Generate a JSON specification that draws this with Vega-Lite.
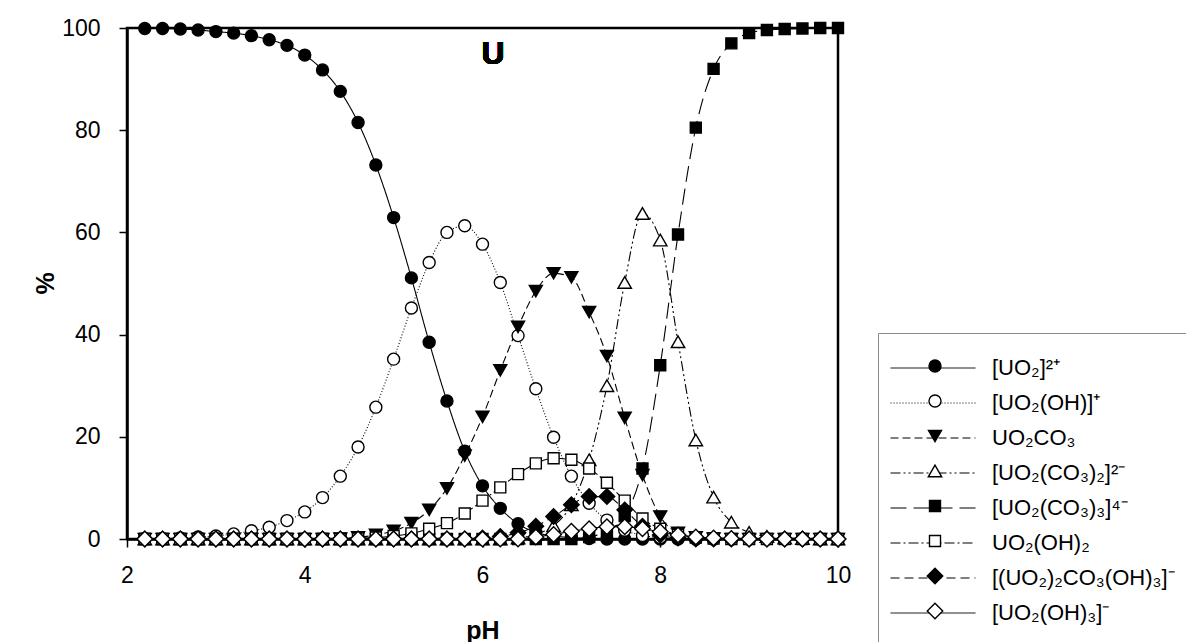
{
 "$schema": "https://vega.github.io/schema/vega-lite/v6.json",
 "autosize": {"type": "none"},
 "padding": {"left": 127, "top": 28, "right": 348, "bottom": 103},
 "width": 711,
 "height": 511,
 "background": "white",
 "config": {
  "font": "Liberation Sans",
  "view": {"stroke": "black", "strokeWidth": 2.5}
 },
 "data": {"values": [
  {"s":"[UO₂]²⁺","pH":2.2,"v":99.9},{"s":"[UO₂]²⁺","pH":2.4,"v":99.9},{"s":"[UO₂]²⁺","pH":2.6,"v":99.8},{"s":"[UO₂]²⁺","pH":2.8,"v":99.6},{"s":"[UO₂]²⁺","pH":3.0,"v":99.3},{"s":"[UO₂]²⁺","pH":3.2,"v":99.0},{"s":"[UO₂]²⁺","pH":3.4,"v":98.5},{"s":"[UO₂]²⁺","pH":3.6,"v":97.7},{"s":"[UO₂]²⁺","pH":3.8,"v":96.6},{"s":"[UO₂]²⁺","pH":4.0,"v":94.7},
  {"s":"[UO₂]²⁺","pH":4.2,"v":91.8},{"s":"[UO₂]²⁺","pH":4.4,"v":87.6},{"s":"[UO₂]²⁺","pH":4.6,"v":81.5},{"s":"[UO₂]²⁺","pH":4.8,"v":73.2},{"s":"[UO₂]²⁺","pH":5.0,"v":62.9},{"s":"[UO₂]²⁺","pH":5.2,"v":51.1},{"s":"[UO₂]²⁺","pH":5.4,"v":38.5},{"s":"[UO₂]²⁺","pH":5.6,"v":27.0},{"s":"[UO₂]²⁺","pH":5.8,"v":17.2},{"s":"[UO₂]²⁺","pH":6.0,"v":10.4},
  {"s":"[UO₂]²⁺","pH":6.2,"v":6.0},{"s":"[UO₂]²⁺","pH":6.4,"v":3.0},{"s":"[UO₂]²⁺","pH":6.6,"v":1.3},{"s":"[UO₂]²⁺","pH":6.8,"v":0.6},{"s":"[UO₂]²⁺","pH":7.0,"v":0.3},{"s":"[UO₂]²⁺","pH":7.2,"v":0.1},{"s":"[UO₂]²⁺","pH":7.4,"v":0},{"s":"[UO₂]²⁺","pH":7.6,"v":0},{"s":"[UO₂]²⁺","pH":7.8,"v":0},{"s":"[UO₂]²⁺","pH":8.0,"v":0},
  {"s":"[UO₂]²⁺","pH":8.2,"v":0},{"s":"[UO₂]²⁺","pH":8.4,"v":0},{"s":"[UO₂]²⁺","pH":8.6,"v":0},{"s":"[UO₂]²⁺","pH":8.8,"v":0},{"s":"[UO₂]²⁺","pH":9.0,"v":0},{"s":"[UO₂]²⁺","pH":9.2,"v":0},{"s":"[UO₂]²⁺","pH":9.4,"v":0},{"s":"[UO₂]²⁺","pH":9.6,"v":0},{"s":"[UO₂]²⁺","pH":9.8,"v":0},{"s":"[UO₂]²⁺","pH":10.0,"v":0},

  {"s":"[UO₂(OH)]⁺","pH":2.2,"v":0.1},{"s":"[UO₂(OH)]⁺","pH":2.4,"v":0.1},{"s":"[UO₂(OH)]⁺","pH":2.6,"v":0.2},{"s":"[UO₂(OH)]⁺","pH":2.8,"v":0.4},{"s":"[UO₂(OH)]⁺","pH":3.0,"v":0.6},{"s":"[UO₂(OH)]⁺","pH":3.2,"v":1.0},{"s":"[UO₂(OH)]⁺","pH":3.4,"v":1.6},{"s":"[UO₂(OH)]⁺","pH":3.6,"v":2.3},{"s":"[UO₂(OH)]⁺","pH":3.8,"v":3.6},{"s":"[UO₂(OH)]⁺","pH":4.0,"v":5.3},
  {"s":"[UO₂(OH)]⁺","pH":4.2,"v":8.1},{"s":"[UO₂(OH)]⁺","pH":4.4,"v":12.3},{"s":"[UO₂(OH)]⁺","pH":4.6,"v":18.0},{"s":"[UO₂(OH)]⁺","pH":4.8,"v":25.8},{"s":"[UO₂(OH)]⁺","pH":5.0,"v":35.2},{"s":"[UO₂(OH)]⁺","pH":5.2,"v":45.2},{"s":"[UO₂(OH)]⁺","pH":5.4,"v":54.1},{"s":"[UO₂(OH)]⁺","pH":5.6,"v":60.0},{"s":"[UO₂(OH)]⁺","pH":5.8,"v":61.3},{"s":"[UO₂(OH)]⁺","pH":6.0,"v":57.7},
  {"s":"[UO₂(OH)]⁺","pH":6.2,"v":50.2},{"s":"[UO₂(OH)]⁺","pH":6.4,"v":39.8},{"s":"[UO₂(OH)]⁺","pH":6.6,"v":29.4},{"s":"[UO₂(OH)]⁺","pH":6.8,"v":19.9},{"s":"[UO₂(OH)]⁺","pH":7.0,"v":12.3},{"s":"[UO₂(OH)]⁺","pH":7.2,"v":7.0},{"s":"[UO₂(OH)]⁺","pH":7.4,"v":3.7},{"s":"[UO₂(OH)]⁺","pH":7.6,"v":1.7},{"s":"[UO₂(OH)]⁺","pH":7.8,"v":0.7},{"s":"[UO₂(OH)]⁺","pH":8.0,"v":0.3},
  {"s":"[UO₂(OH)]⁺","pH":8.2,"v":0.1},{"s":"[UO₂(OH)]⁺","pH":8.4,"v":0},{"s":"[UO₂(OH)]⁺","pH":8.6,"v":0},{"s":"[UO₂(OH)]⁺","pH":8.8,"v":0},{"s":"[UO₂(OH)]⁺","pH":9.0,"v":0},{"s":"[UO₂(OH)]⁺","pH":9.2,"v":0},{"s":"[UO₂(OH)]⁺","pH":9.4,"v":0},{"s":"[UO₂(OH)]⁺","pH":9.6,"v":0},{"s":"[UO₂(OH)]⁺","pH":9.8,"v":0},{"s":"[UO₂(OH)]⁺","pH":10.0,"v":0},

  {"s":"UO₂CO₃","pH":2.2,"v":0},{"s":"UO₂CO₃","pH":2.4,"v":0},{"s":"UO₂CO₃","pH":2.6,"v":0},{"s":"UO₂CO₃","pH":2.8,"v":0},{"s":"UO₂CO₃","pH":3.0,"v":0},{"s":"UO₂CO₃","pH":3.2,"v":0},{"s":"UO₂CO₃","pH":3.4,"v":0},{"s":"UO₂CO₃","pH":3.6,"v":0},{"s":"UO₂CO₃","pH":3.8,"v":0},{"s":"UO₂CO₃","pH":4.0,"v":0},
  {"s":"UO₂CO₃","pH":4.2,"v":0},{"s":"UO₂CO₃","pH":4.4,"v":0.1},{"s":"UO₂CO₃","pH":4.6,"v":0.3},{"s":"UO₂CO₃","pH":4.8,"v":0.8},{"s":"UO₂CO₃","pH":5.0,"v":1.6},{"s":"UO₂CO₃","pH":5.2,"v":3.1},{"s":"UO₂CO₃","pH":5.4,"v":5.7},{"s":"UO₂CO₃","pH":5.6,"v":9.9},{"s":"UO₂CO₃","pH":5.8,"v":16.3},{"s":"UO₂CO₃","pH":6.0,"v":23.9},
  {"s":"UO₂CO₃","pH":6.2,"v":33.0},{"s":"UO₂CO₃","pH":6.4,"v":41.5},{"s":"UO₂CO₃","pH":6.6,"v":48.5},{"s":"UO₂CO₃","pH":6.8,"v":52.0},{"s":"UO₂CO₃","pH":7.0,"v":51.2},{"s":"UO₂CO₃","pH":7.2,"v":44.4},{"s":"UO₂CO₃","pH":7.4,"v":35.8},{"s":"UO₂CO₃","pH":7.6,"v":23.7},{"s":"UO₂CO₃","pH":7.8,"v":12.5},{"s":"UO₂CO₃","pH":8.0,"v":4.4},
  {"s":"UO₂CO₃","pH":8.2,"v":1.2},{"s":"UO₂CO₃","pH":8.4,"v":0.3},{"s":"UO₂CO₃","pH":8.6,"v":0.1},{"s":"UO₂CO₃","pH":8.8,"v":0},{"s":"UO₂CO₃","pH":9.0,"v":0},{"s":"UO₂CO₃","pH":9.2,"v":0},{"s":"UO₂CO₃","pH":9.4,"v":0},{"s":"UO₂CO₃","pH":9.6,"v":0},{"s":"UO₂CO₃","pH":9.8,"v":0},{"s":"UO₂CO₃","pH":10.0,"v":0},

  {"s":"[UO₂(CO₃)₂]²⁻","pH":2.2,"v":0},{"s":"[UO₂(CO₃)₂]²⁻","pH":2.4,"v":0},{"s":"[UO₂(CO₃)₂]²⁻","pH":2.6,"v":0},{"s":"[UO₂(CO₃)₂]²⁻","pH":2.8,"v":0},{"s":"[UO₂(CO₃)₂]²⁻","pH":3.0,"v":0},{"s":"[UO₂(CO₃)₂]²⁻","pH":3.2,"v":0},{"s":"[UO₂(CO₃)₂]²⁻","pH":3.4,"v":0},{"s":"[UO₂(CO₃)₂]²⁻","pH":3.6,"v":0},{"s":"[UO₂(CO₃)₂]²⁻","pH":3.8,"v":0},{"s":"[UO₂(CO₃)₂]²⁻","pH":4.0,"v":0},
  {"s":"[UO₂(CO₃)₂]²⁻","pH":4.2,"v":0},{"s":"[UO₂(CO₃)₂]²⁻","pH":4.4,"v":0},{"s":"[UO₂(CO₃)₂]²⁻","pH":4.6,"v":0},{"s":"[UO₂(CO₃)₂]²⁻","pH":4.8,"v":0},{"s":"[UO₂(CO₃)₂]²⁻","pH":5.0,"v":0},{"s":"[UO₂(CO₃)₂]²⁻","pH":5.2,"v":0},{"s":"[UO₂(CO₃)₂]²⁻","pH":5.4,"v":0},{"s":"[UO₂(CO₃)₂]²⁻","pH":5.6,"v":0},{"s":"[UO₂(CO₃)₂]²⁻","pH":5.8,"v":0},{"s":"[UO₂(CO₃)₂]²⁻","pH":6.0,"v":0},
  {"s":"[UO₂(CO₃)₂]²⁻","pH":6.2,"v":0},{"s":"[UO₂(CO₃)₂]²⁻","pH":6.4,"v":0.2},{"s":"[UO₂(CO₃)₂]²⁻","pH":6.6,"v":0.9},{"s":"[UO₂(CO₃)₂]²⁻","pH":6.8,"v":2.6},{"s":"[UO₂(CO₃)₂]²⁻","pH":7.0,"v":6.7},{"s":"[UO₂(CO₃)₂]²⁻","pH":7.2,"v":15.5},{"s":"[UO₂(CO₃)₂]²⁻","pH":7.4,"v":30.0},{"s":"[UO₂(CO₃)₂]²⁻","pH":7.6,"v":50.2},{"s":"[UO₂(CO₃)₂]²⁻","pH":7.8,"v":63.7},{"s":"[UO₂(CO₃)₂]²⁻","pH":8.0,"v":58.5},
  {"s":"[UO₂(CO₃)₂]²⁻","pH":8.2,"v":38.6},{"s":"[UO₂(CO₃)₂]²⁻","pH":8.4,"v":19.4},{"s":"[UO₂(CO₃)₂]²⁻","pH":8.6,"v":8.2},{"s":"[UO₂(CO₃)₂]²⁻","pH":8.8,"v":3.3},{"s":"[UO₂(CO₃)₂]²⁻","pH":9.0,"v":1.3},{"s":"[UO₂(CO₃)₂]²⁻","pH":9.2,"v":0.5},{"s":"[UO₂(CO₃)₂]²⁻","pH":9.4,"v":0.2},{"s":"[UO₂(CO₃)₂]²⁻","pH":9.6,"v":0.1},{"s":"[UO₂(CO₃)₂]²⁻","pH":9.8,"v":0},{"s":"[UO₂(CO₃)₂]²⁻","pH":10.0,"v":0},

  {"s":"[UO₂(CO₃)₃]⁴⁻","pH":2.2,"v":0},{"s":"[UO₂(CO₃)₃]⁴⁻","pH":2.4,"v":0},{"s":"[UO₂(CO₃)₃]⁴⁻","pH":2.6,"v":0},{"s":"[UO₂(CO₃)₃]⁴⁻","pH":2.8,"v":0},{"s":"[UO₂(CO₃)₃]⁴⁻","pH":3.0,"v":0},{"s":"[UO₂(CO₃)₃]⁴⁻","pH":3.2,"v":0},{"s":"[UO₂(CO₃)₃]⁴⁻","pH":3.4,"v":0},{"s":"[UO₂(CO₃)₃]⁴⁻","pH":3.6,"v":0},{"s":"[UO₂(CO₃)₃]⁴⁻","pH":3.8,"v":0},{"s":"[UO₂(CO₃)₃]⁴⁻","pH":4.0,"v":0},
  {"s":"[UO₂(CO₃)₃]⁴⁻","pH":4.2,"v":0},{"s":"[UO₂(CO₃)₃]⁴⁻","pH":4.4,"v":0},{"s":"[UO₂(CO₃)₃]⁴⁻","pH":4.6,"v":0},{"s":"[UO₂(CO₃)₃]⁴⁻","pH":4.8,"v":0},{"s":"[UO₂(CO₃)₃]⁴⁻","pH":5.0,"v":0},{"s":"[UO₂(CO₃)₃]⁴⁻","pH":5.2,"v":0},{"s":"[UO₂(CO₃)₃]⁴⁻","pH":5.4,"v":0},{"s":"[UO₂(CO₃)₃]⁴⁻","pH":5.6,"v":0},{"s":"[UO₂(CO₃)₃]⁴⁻","pH":5.8,"v":0},{"s":"[UO₂(CO₃)₃]⁴⁻","pH":6.0,"v":0},
  {"s":"[UO₂(CO₃)₃]⁴⁻","pH":6.2,"v":0},{"s":"[UO₂(CO₃)₃]⁴⁻","pH":6.4,"v":0},{"s":"[UO₂(CO₃)₃]⁴⁻","pH":6.6,"v":0},{"s":"[UO₂(CO₃)₃]⁴⁻","pH":6.8,"v":0},{"s":"[UO₂(CO₃)₃]⁴⁻","pH":7.0,"v":0},{"s":"[UO₂(CO₃)₃]⁴⁻","pH":7.2,"v":0.4},{"s":"[UO₂(CO₃)₃]⁴⁻","pH":7.4,"v":1.5},{"s":"[UO₂(CO₃)₃]⁴⁻","pH":7.6,"v":4.5},{"s":"[UO₂(CO₃)₃]⁴⁻","pH":7.8,"v":13.8},{"s":"[UO₂(CO₃)₃]⁴⁻","pH":8.0,"v":34.0},
  {"s":"[UO₂(CO₃)₃]⁴⁻","pH":8.2,"v":59.6},{"s":"[UO₂(CO₃)₃]⁴⁻","pH":8.4,"v":80.5},{"s":"[UO₂(CO₃)₃]⁴⁻","pH":8.6,"v":92.0},{"s":"[UO₂(CO₃)₃]⁴⁻","pH":8.8,"v":97.0},{"s":"[UO₂(CO₃)₃]⁴⁻","pH":9.0,"v":99.0},{"s":"[UO₂(CO₃)₃]⁴⁻","pH":9.2,"v":99.6},{"s":"[UO₂(CO₃)₃]⁴⁻","pH":9.4,"v":99.8},{"s":"[UO₂(CO₃)₃]⁴⁻","pH":9.6,"v":99.9},{"s":"[UO₂(CO₃)₃]⁴⁻","pH":9.8,"v":100},{"s":"[UO₂(CO₃)₃]⁴⁻","pH":10.0,"v":100},

  {"s":"UO₂(OH)₂","pH":2.2,"v":0},{"s":"UO₂(OH)₂","pH":2.4,"v":0},{"s":"UO₂(OH)₂","pH":2.6,"v":0},{"s":"UO₂(OH)₂","pH":2.8,"v":0},{"s":"UO₂(OH)₂","pH":3.0,"v":0},{"s":"UO₂(OH)₂","pH":3.2,"v":0},{"s":"UO₂(OH)₂","pH":3.4,"v":0},{"s":"UO₂(OH)₂","pH":3.6,"v":0},{"s":"UO₂(OH)₂","pH":3.8,"v":0},{"s":"UO₂(OH)₂","pH":4.0,"v":0},
  {"s":"UO₂(OH)₂","pH":4.2,"v":0},{"s":"UO₂(OH)₂","pH":4.4,"v":0},{"s":"UO₂(OH)₂","pH":4.6,"v":0.1},{"s":"UO₂(OH)₂","pH":4.8,"v":0.3},{"s":"UO₂(OH)₂","pH":5.0,"v":0.6},{"s":"UO₂(OH)₂","pH":5.2,"v":1.1},{"s":"UO₂(OH)₂","pH":5.4,"v":2.0},{"s":"UO₂(OH)₂","pH":5.6,"v":3.1},{"s":"UO₂(OH)₂","pH":5.8,"v":5.0},{"s":"UO₂(OH)₂","pH":6.0,"v":7.5},
  {"s":"UO₂(OH)₂","pH":6.2,"v":10.1},{"s":"UO₂(OH)₂","pH":6.4,"v":12.7},{"s":"UO₂(OH)₂","pH":6.6,"v":14.8},{"s":"UO₂(OH)₂","pH":6.8,"v":15.8},{"s":"UO₂(OH)₂","pH":7.0,"v":15.5},{"s":"UO₂(OH)₂","pH":7.2,"v":13.8},{"s":"UO₂(OH)₂","pH":7.4,"v":11.0},{"s":"UO₂(OH)₂","pH":7.6,"v":7.5},{"s":"UO₂(OH)₂","pH":7.8,"v":4.0},{"s":"UO₂(OH)₂","pH":8.0,"v":2.0},
  {"s":"UO₂(OH)₂","pH":8.2,"v":0.8},{"s":"UO₂(OH)₂","pH":8.4,"v":0.3},{"s":"UO₂(OH)₂","pH":8.6,"v":0.1},{"s":"UO₂(OH)₂","pH":8.8,"v":0},{"s":"UO₂(OH)₂","pH":9.0,"v":0},{"s":"UO₂(OH)₂","pH":9.2,"v":0},{"s":"UO₂(OH)₂","pH":9.4,"v":0},{"s":"UO₂(OH)₂","pH":9.6,"v":0},{"s":"UO₂(OH)₂","pH":9.8,"v":0},{"s":"UO₂(OH)₂","pH":10.0,"v":0},

  {"s":"[(UO₂)₂CO₃(OH)₃]⁻","pH":2.2,"v":0},{"s":"[(UO₂)₂CO₃(OH)₃]⁻","pH":2.4,"v":0},{"s":"[(UO₂)₂CO₃(OH)₃]⁻","pH":2.6,"v":0},{"s":"[(UO₂)₂CO₃(OH)₃]⁻","pH":2.8,"v":0},{"s":"[(UO₂)₂CO₃(OH)₃]⁻","pH":3.0,"v":0},{"s":"[(UO₂)₂CO₃(OH)₃]⁻","pH":3.2,"v":0},{"s":"[(UO₂)₂CO₃(OH)₃]⁻","pH":3.4,"v":0},{"s":"[(UO₂)₂CO₃(OH)₃]⁻","pH":3.6,"v":0},{"s":"[(UO₂)₂CO₃(OH)₃]⁻","pH":3.8,"v":0},{"s":"[(UO₂)₂CO₃(OH)₃]⁻","pH":4.0,"v":0},
  {"s":"[(UO₂)₂CO₃(OH)₃]⁻","pH":4.2,"v":0},{"s":"[(UO₂)₂CO₃(OH)₃]⁻","pH":4.4,"v":0},{"s":"[(UO₂)₂CO₃(OH)₃]⁻","pH":4.6,"v":0},{"s":"[(UO₂)₂CO₃(OH)₃]⁻","pH":4.8,"v":0},{"s":"[(UO₂)₂CO₃(OH)₃]⁻","pH":5.0,"v":0},{"s":"[(UO₂)₂CO₃(OH)₃]⁻","pH":5.2,"v":0},{"s":"[(UO₂)₂CO₃(OH)₃]⁻","pH":5.4,"v":0},{"s":"[(UO₂)₂CO₃(OH)₃]⁻","pH":5.6,"v":0},{"s":"[(UO₂)₂CO₃(OH)₃]⁻","pH":5.8,"v":0},{"s":"[(UO₂)₂CO₃(OH)₃]⁻","pH":6.0,"v":0.2},
  {"s":"[(UO₂)₂CO₃(OH)₃]⁻","pH":6.2,"v":0.5},{"s":"[(UO₂)₂CO₃(OH)₃]⁻","pH":6.4,"v":1.2},{"s":"[(UO₂)₂CO₃(OH)₃]⁻","pH":6.6,"v":2.5},{"s":"[(UO₂)₂CO₃(OH)₃]⁻","pH":6.8,"v":4.4},{"s":"[(UO₂)₂CO₃(OH)₃]⁻","pH":7.0,"v":6.7},{"s":"[(UO₂)₂CO₃(OH)₃]⁻","pH":7.2,"v":8.3},{"s":"[(UO₂)₂CO₃(OH)₃]⁻","pH":7.4,"v":8.3},{"s":"[(UO₂)₂CO₃(OH)₃]⁻","pH":7.6,"v":5.7},{"s":"[(UO₂)₂CO₃(OH)₃]⁻","pH":7.8,"v":2.5},{"s":"[(UO₂)₂CO₃(OH)₃]⁻","pH":8.0,"v":0.8},
  {"s":"[(UO₂)₂CO₃(OH)₃]⁻","pH":8.2,"v":0.2},{"s":"[(UO₂)₂CO₃(OH)₃]⁻","pH":8.4,"v":0},{"s":"[(UO₂)₂CO₃(OH)₃]⁻","pH":8.6,"v":0},{"s":"[(UO₂)₂CO₃(OH)₃]⁻","pH":8.8,"v":0},{"s":"[(UO₂)₂CO₃(OH)₃]⁻","pH":9.0,"v":0},{"s":"[(UO₂)₂CO₃(OH)₃]⁻","pH":9.2,"v":0},{"s":"[(UO₂)₂CO₃(OH)₃]⁻","pH":9.4,"v":0},{"s":"[(UO₂)₂CO₃(OH)₃]⁻","pH":9.6,"v":0},{"s":"[(UO₂)₂CO₃(OH)₃]⁻","pH":9.8,"v":0},{"s":"[(UO₂)₂CO₃(OH)₃]⁻","pH":10.0,"v":0},

  {"s":"[UO₂(OH)₃]⁻","pH":2.2,"v":0},{"s":"[UO₂(OH)₃]⁻","pH":2.4,"v":0},{"s":"[UO₂(OH)₃]⁻","pH":2.6,"v":0},{"s":"[UO₂(OH)₃]⁻","pH":2.8,"v":0},{"s":"[UO₂(OH)₃]⁻","pH":3.0,"v":0},{"s":"[UO₂(OH)₃]⁻","pH":3.2,"v":0},{"s":"[UO₂(OH)₃]⁻","pH":3.4,"v":0},{"s":"[UO₂(OH)₃]⁻","pH":3.6,"v":0},{"s":"[UO₂(OH)₃]⁻","pH":3.8,"v":0},{"s":"[UO₂(OH)₃]⁻","pH":4.0,"v":0},
  {"s":"[UO₂(OH)₃]⁻","pH":4.2,"v":0},{"s":"[UO₂(OH)₃]⁻","pH":4.4,"v":0},{"s":"[UO₂(OH)₃]⁻","pH":4.6,"v":0},{"s":"[UO₂(OH)₃]⁻","pH":4.8,"v":0},{"s":"[UO₂(OH)₃]⁻","pH":5.0,"v":0},{"s":"[UO₂(OH)₃]⁻","pH":5.2,"v":0},{"s":"[UO₂(OH)₃]⁻","pH":5.4,"v":0},{"s":"[UO₂(OH)₃]⁻","pH":5.6,"v":0},{"s":"[UO₂(OH)₃]⁻","pH":5.8,"v":0},{"s":"[UO₂(OH)₃]⁻","pH":6.0,"v":0},
  {"s":"[UO₂(OH)₃]⁻","pH":6.2,"v":0},{"s":"[UO₂(OH)₃]⁻","pH":6.4,"v":0},{"s":"[UO₂(OH)₃]⁻","pH":6.6,"v":0.4},{"s":"[UO₂(OH)₃]⁻","pH":6.8,"v":0.9},{"s":"[UO₂(OH)₃]⁻","pH":7.0,"v":1.5},{"s":"[UO₂(OH)₃]⁻","pH":7.2,"v":2.0},{"s":"[UO₂(OH)₃]⁻","pH":7.4,"v":2.4},{"s":"[UO₂(OH)₃]⁻","pH":7.6,"v":2.4},{"s":"[UO₂(OH)₃]⁻","pH":7.8,"v":2.0},{"s":"[UO₂(OH)₃]⁻","pH":8.0,"v":1.4},
  {"s":"[UO₂(OH)₃]⁻","pH":8.2,"v":0.8},{"s":"[UO₂(OH)₃]⁻","pH":8.4,"v":0.4},{"s":"[UO₂(OH)₃]⁻","pH":8.6,"v":0.2},{"s":"[UO₂(OH)₃]⁻","pH":8.8,"v":0.1},{"s":"[UO₂(OH)₃]⁻","pH":9.0,"v":0},{"s":"[UO₂(OH)₃]⁻","pH":9.2,"v":0},{"s":"[UO₂(OH)₃]⁻","pH":9.4,"v":0},{"s":"[UO₂(OH)₃]⁻","pH":9.6,"v":0},{"s":"[UO₂(OH)₃]⁻","pH":9.8,"v":0},{"s":"[UO₂(OH)₃]⁻","pH":10.0,"v":0}
 ]},
 "encoding": {
  "x": {"field": "pH", "type": "quantitative",
        "scale": {"domain": [2, 10], "nice": false, "zero": false},
        "axis": {"values": [2, 4, 6, 8, 10], "grid": false, "tickSize": 8, "tickWidth": 1.5, "tickColor": "black",
                 "domainColor": "black", "domainWidth": 2.5, "labelFontSize": 23, "labelColor": "black",
                 "labelPadding": 17, "labelFlush": false, "title": "pH", "titleFontSize": 25,
                 "titleFontWeight": "bold", "titleColor": "black", "titleY": 91, "titleBaseline": "middle"}},
  "y": {"field": "v", "type": "quantitative",
        "scale": {"domain": [0, 100], "nice": false},
        "axis": {"values": [0, 20, 40, 60, 80, 100], "grid": false, "tickSize": 8, "tickWidth": 1.5, "tickColor": "black",
                 "domainColor": "black", "domainWidth": 2.5, "labelFontSize": 23, "labelColor": "black",
                 "labelPadding": 19, "labelFlush": false, "title": "%", "titleFontSize": 25,
                 "titleFontWeight": "bold", "titleColor": "black", "titleX": -82, "titleY": 255,
                 "titleAngle": -90, "titleAlign": "center", "titleBaseline": "middle"}}
 },
 "layer": [
  {
   "mark": {"type": "line", "interpolate": "monotone", "color": "black", "strokeWidth": 1.1},
   "encoding": {
    "strokeDash": {"field": "s", "type": "nominal",
      "scale": {"domain": ["[UO₂]²⁺", "[UO₂(OH)]⁺", "UO₂CO₃", "[UO₂(CO₃)₂]²⁻", "[UO₂(CO₃)₃]⁴⁻", "UO₂(OH)₂", "[(UO₂)₂CO₃(OH)₃]⁻", "[UO₂(OH)₃]⁻"],
                "range": [[1, 0], [1, 2], [8, 4], [10, 3, 2, 3, 2, 3], [16, 7], [10, 3, 2, 3], [9, 5], [1, 0]]},
      "legend": {"orient": "none", "legendX": 751, "legendY": 305, "title": null,
                 "symbolType": "M-5,0H5", "symbolSize": 289, "symbolStrokeWidth": 1, "symbolStrokeColor": "black",
                 "symbolFillColor": "transparent",
                 "labelFontSize": 22, "labelColor": "black", "labelOffset": 48, "labelLimit": 500,
                 "rowPadding": 13, "padding": 24, "symbolOffset": 20,
                 "strokeColor": "#8c8c8c", "fillColor": "white"}}
   }
  },
  {
   "mark": {"type": "point", "filled": false, "strokeWidth": 1.4, "opacity": 1},
   "encoding": {
    "shape": {"field": "s", "type": "nominal", "sort": null,
      "scale": {"range": ["circle", "circle", "triangle-down", "triangle-up", "square", "square", "diamond", "diamond"]},
      "legend": {"orient": "none", "legendX": 797, "legendY": 327, "title": null, "padding": 0,
                 "labelExpr": "''", "labelFontSize": 22, "labelOffset": 20, "labelLimit": 500, "rowPadding": 13,
                 "symbolStrokeWidth": 1.4}},
    "fill": {"field": "s", "type": "nominal", "sort": null,
      "scale": {"range": ["black", "white", "black", "white", "black", "white", "black", "white"]},
      "legend": {"orient": "none", "legendX": 797, "legendY": 327, "title": null, "padding": 0,
                 "labelExpr": "''", "labelFontSize": 22, "labelOffset": 20, "labelLimit": 500, "rowPadding": 13,
                 "symbolStrokeWidth": 1.4}},
    "stroke": {"field": "s", "type": "nominal", "sort": null,
      "scale": {"range": ["black", "black", "black", "black", "black", "black", "black", "black"]},
      "legend": {"orient": "none", "legendX": 797, "legendY": 327, "title": null, "padding": 0,
                 "labelExpr": "''", "labelFontSize": 22, "labelOffset": 20, "labelLimit": 500, "rowPadding": 13,
                 "symbolStrokeWidth": 1.4}},
    "size": {"field": "s", "type": "nominal", "sort": null,
      "scale": {"type": "ordinal", "range": [144, 144, 170, 180, 121, 121, 240, 240]},
      "legend": {"orient": "none", "legendX": 797, "legendY": 327, "title": null, "padding": 0,
                 "labelExpr": "''", "labelFontSize": 22, "labelOffset": 20, "labelLimit": 500, "rowPadding": 13,
                 "symbolStrokeWidth": 1.4}}
   }
  },
  {
   "mark": {"type": "text", "text": "U", "fontSize": 32, "fontWeight": "bold", "color": "black", "baseline": "middle", "align": "center"},
   "encoding": {"x": {"datum": 6.12}, "y": {"datum": 94.9}}
  }
 ]
}
